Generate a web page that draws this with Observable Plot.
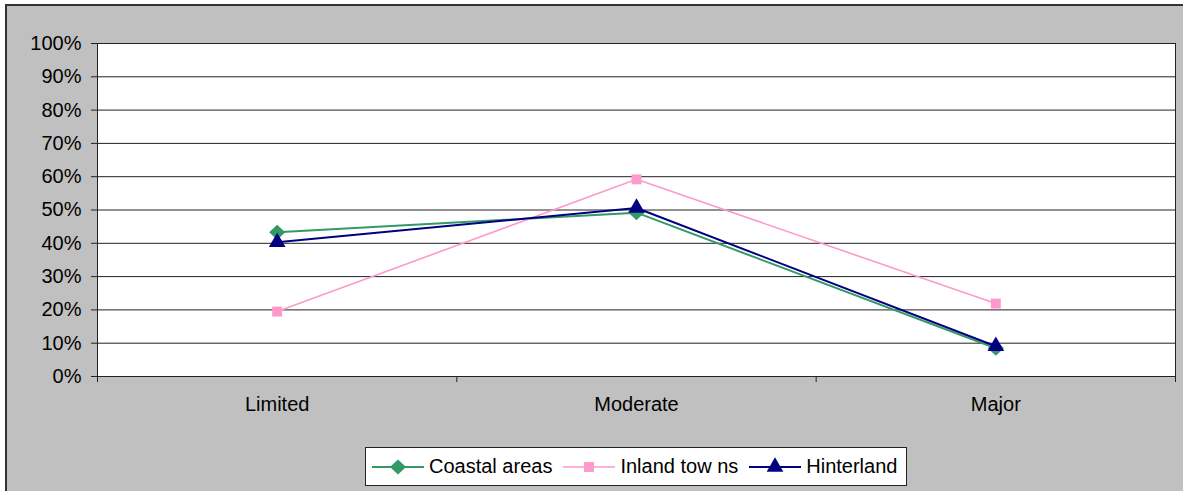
<!DOCTYPE html>
<html>
<head>
<meta charset="utf-8">
<script src="https://cdn.jsdelivr.net/npm/d3@7"></script>
<script src="https://cdn.jsdelivr.net/npm/@observablehq/plot@0.6"></script>
<style>
  html, body { margin: 0; padding: 0; background: #fff; }
  body { width: 1183px; height: 491px; overflow: hidden; position: relative; font-family: "Liberation Sans", Arial, sans-serif; }
  #frame { position: absolute; left: 5px; top: 4px; width: 1200px; height: 520px; background: #C0C0C0; border-left: 2px solid #333; border-top: 2px solid #333; }
  #chart { position: absolute; left: 0; top: 0; }
  #legend { position: absolute; left: 365px; top: 447px; width: 542px; height: 39px; background: #fff; border: 1px solid #222; box-sizing: border-box; display: flex; align-items: center; font-size: 20px; color: #000; }
  .item { display: flex; align-items: center; }
  .item svg { display: block; }
</style>
</head>
<body>
<div id="frame"></div>
<div id="chart"></div>
<div id="legend"></div>
<script>
const categories = ["Limited", "Moderate", "Major"];
const seriesNames = ["Coastal areas", "Inland tow ns", "Hinterland"];
const coastal = [0.433, 0.492, 0.085];
const inland = [0.195, 0.592, 0.219];
const hinterland = [0.403, 0.506, 0.091];
const yTicks = [0, 0.1, 0.2, 0.3, 0.4, 0.5, 0.6, 0.7, 0.8, 0.9, 1];
const colors = ["#339966", "#FF99CC", "#000080"];
const sizes = [8, 5.6, 6.2];

const squareDiamond = {
  draw(context, size) {
    const h = Math.sqrt(size / Math.PI);
    context.moveTo(0, -h * 0.95);
    context.lineTo(h, 0);
    context.lineTo(0, h * 0.95);
    context.lineTo(-h, 0);
    context.closePath();
  }
};
const symbols = [squareDiamond, d3.symbolSquare, d3.symbolTriangle];

const allValues = [coastal, inland, hinterland];
const data = [];
seriesNames.forEach((s, si) => {
  categories.forEach((c, ci) => {
    data.push({series: s, si, idx: ci, cat: c, value: allValues[si][ci]});
  });
});
const boundaries = d3.range(categories.length + 1).map(i => i - 0.5);

const marks = [
  Plot.frame({fill: "white", stroke: "none"}),
  Plot.gridY(yTicks, {stroke: "#222", strokeOpacity: 1, strokeWidth: 1}),
  Plot.ruleX([boundaries[boundaries.length - 1]], {stroke: "#222"}),
  Plot.axisY(yTicks, {tickFormat: d3.format(".0%"), tickSize: 6, tickPadding: 10, fontSize: 20, stroke: "#222", label: null}),
  Plot.ruleX([boundaries[0]], {stroke: "#222"}),
  Plot.axisX(d3.range(categories.length), {tickSize: 0, tickPadding: 20, tickFormat: i => categories[i], fontSize: 20, label: null}),
  Plot.axisX(boundaries, {tickSize: 6, tickFormat: () => "", stroke: "#222", label: null}),
  Plot.ruleY([0], {stroke: "#222"})
];
seriesNames.forEach((s, si) => {
  const d = data.filter(r => r.si === si);
  marks.push(Plot.line(d, {x: "idx", y: "value", stroke: colors[si], strokeWidth: si === 1 ? 1.6 : 2}));
});
seriesNames.forEach((s, si) => {
  const d = data.filter(r => r.si === si);
  marks.push(Plot.dot(d, {x: "idx", y: "value", symbol: () => symbols[si], fill: colors[si], stroke: "none", r: sizes[si]}));
});

const chart = Plot.plot({
  width: 1183,
  height: 420,
  marginLeft: 97,
  marginRight: 8,
  marginTop: 43,
  marginBottom: 44,
  style: {background: "transparent", fontFamily: "'Liberation Sans', Arial, sans-serif", fontSize: "20px", color: "#000"},
  x: {domain: [boundaries[0], boundaries[boundaries.length - 1]], axis: null},
  y: {domain: [0, 1], axis: null},
  marks
});
document.getElementById("chart").appendChild(chart);

const legend = d3.select("#legend");
seriesNames.forEach((s, si) => {
  const item = legend.append("div").attr("class", "item").style("margin-left", si === 0 ? "6px" : "11px");
  const svg = item.append("svg").attr("width", 52).attr("height", 20);
  svg.append("line").attr("x1", 0).attr("x2", 52).attr("y1", 10).attr("y2", 10)
    .attr("stroke", colors[si]).attr("stroke-width", si === 1 ? 1.6 : 2);
  svg.append("path").attr("transform", "translate(26,10)")
    .attr("d", d3.symbol(symbols[si], Math.PI * sizes[si] * sizes[si])())
    .attr("fill", colors[si]);
  item.append("span").style("margin-left", "5px").text(s);
});
</script>
</body>
</html>
